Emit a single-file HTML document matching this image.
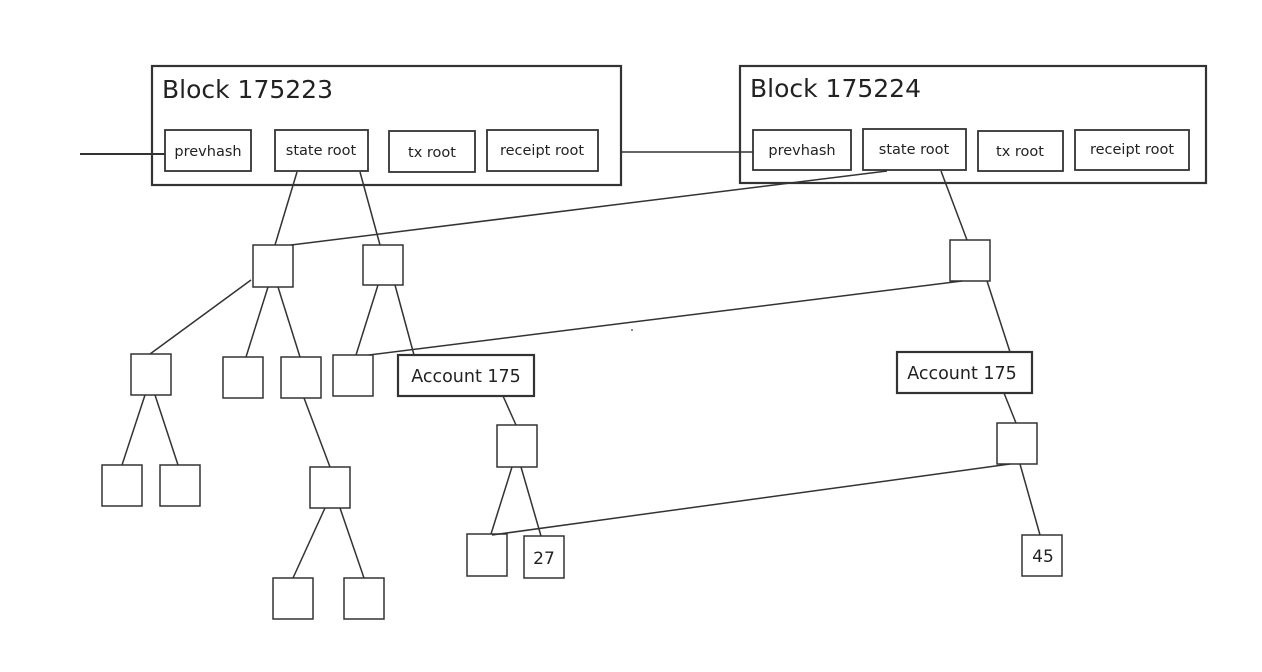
<!DOCTYPE html>
<html><head><style>
html,body{margin:0;padding:0;background:#fff;}
svg{display:block;}
text{font-family:"DejaVu Sans","Liberation Sans",sans-serif;fill:#222;}
</style></head><body>
<svg width="1262" height="672" viewBox="0 0 1262 672" xmlns="http://www.w3.org/2000/svg">
<g fill="none" stroke="#333" stroke-width="1.5">
<rect x="152" y="66" width="469" height="119" stroke-width="2.2"/>
<rect x="740" y="66" width="466" height="117" stroke-width="2.2"/>
<rect x="165" y="130" width="86" height="41" stroke-width="1.8"/>
<rect x="275" y="130" width="93" height="41" stroke-width="1.8"/>
<rect x="389" y="131" width="86" height="41" stroke-width="1.8"/>
<rect x="487" y="130" width="111" height="41" stroke-width="1.8"/>
<rect x="753" y="130" width="98" height="40" stroke-width="1.8"/>
<rect x="863" y="129" width="103" height="41" stroke-width="1.8"/>
<rect x="978" y="131" width="85" height="40" stroke-width="1.8"/>
<rect x="1075" y="130" width="114" height="40" stroke-width="1.8"/>
<line x1="80" y1="154" x2="165" y2="154" stroke-width="2"/>
<line x1="621" y1="152" x2="753" y2="152"/>
<line x1="297" y1="172" x2="275" y2="245"/>
<line x1="360" y1="172" x2="380" y2="245"/>
<line x1="887" y1="171" x2="291" y2="245"/>
<line x1="941" y1="171" x2="967" y2="240"/>
<line x1="962" y1="281" x2="369" y2="355"/>
<line x1="987" y1="281" x2="1010" y2="352"/>
<line x1="1004" y1="393" x2="1016" y2="423"/>
<line x1="1010" y1="464" x2="492" y2="535"/>
<line x1="1020" y1="464" x2="1040" y2="535"/>
<line x1="251" y1="280" x2="150" y2="354"/>
<line x1="268" y1="287" x2="246" y2="357"/>
<line x1="278" y1="287" x2="300" y2="357"/>
<line x1="378" y1="285" x2="356" y2="355"/>
<line x1="395" y1="285" x2="414" y2="355"/>
<line x1="145" y1="395" x2="122" y2="465"/>
<line x1="155" y1="395" x2="178" y2="465"/>
<line x1="304" y1="398" x2="330" y2="467"/>
<line x1="325" y1="508" x2="293" y2="578"/>
<line x1="340" y1="508" x2="364" y2="578"/>
<line x1="503" y1="396" x2="516" y2="425"/>
<line x1="512" y1="467" x2="491" y2="534"/>
<line x1="521" y1="467" x2="541" y2="536"/>
<rect x="253" y="245" width="40" height="42"/>
<rect x="363" y="245" width="40" height="40"/>
<rect x="131" y="354" width="40" height="41"/>
<rect x="223" y="357" width="40" height="41"/>
<rect x="281" y="357" width="40" height="41"/>
<rect x="333" y="355" width="40" height="41"/>
<rect x="102" y="465" width="40" height="41"/>
<rect x="160" y="465" width="40" height="41"/>
<rect x="310" y="467" width="40" height="41"/>
<rect x="273" y="578" width="40" height="41"/>
<rect x="344" y="578" width="40" height="41"/>
<rect x="398" y="355" width="136" height="41" stroke-width="2.2"/>
<rect x="497" y="425" width="40" height="42"/>
<rect x="467" y="534" width="40" height="42"/>
<rect x="524" y="536" width="40" height="42"/>
<rect x="950" y="240" width="40" height="41"/>
<rect x="897" y="352" width="135" height="41" stroke-width="2.2"/>
<rect x="997" y="423" width="40" height="41"/>
<rect x="1022" y="535" width="40" height="41"/>
</g>
<circle cx="632" cy="330" r="1" fill="#666"/>
<g font-size="25">
<text x="162" y="98">Block 175223</text>
<text x="750" y="97">Block 175224</text>
</g>
<g font-size="14.5" text-anchor="middle">
<text x="208" y="156">prevhash</text>
<text x="321" y="155">state root</text>
<text x="432" y="157">tx root</text>
<text x="542" y="155">receipt root</text>
<text x="802" y="155">prevhash</text>
<text x="914" y="154">state root</text>
<text x="1020" y="156">tx root</text>
<text x="1132" y="154">receipt root</text>
<text x="466" y="382" font-size="17.5">Account 175</text>
<text x="962" y="379" font-size="17.5">Account 175</text>
<text x="544" y="564" font-size="17">27</text>
<text x="1043" y="562" font-size="17">45</text>
</g>
</svg>
</body></html>
